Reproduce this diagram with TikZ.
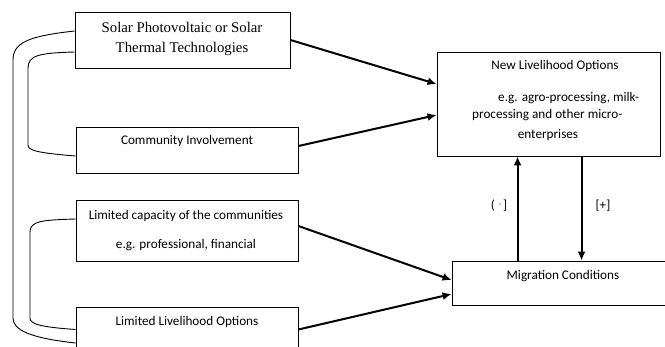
\documentclass[tikz,border=0pt]{standalone}
\usepackage{fontspec}
\setmainfont{Carlito}
\newfontfamily\tms{Liberation Serif}
\usetikzlibrary{arrows.meta,calc}
\begin{document}
\begin{tikzpicture}[x=1pt,y=-1pt,
  box/.style={draw, line width=0.9pt, inner sep=0pt, minimum width=#1},
  txt/.style={inner sep=0pt, font=\fontsize{13.2}{16}\selectfont},
  arr/.style={line width=2pt, -{Latex[length=9pt,width=8pt]}},
  link/.style={line width=0.9pt}]
\useasboundingbox (0,0) rectangle (665,346);
\clip (0,0) rectangle (665,346);
% boxes
\node[box=215pt, minimum height=56pt] (solar) at (182.5,40) {};
\node[box=222pt, minimum height=46pt] (comm) at (187,150) {};
\node[box=222pt, minimum height=61pt] (cap) at (187,230.5) {};
\node[box=222pt, minimum height=45pt] (lim) at (187,329.5) {};
\node[box=223pt, minimum height=104pt] (nlo) at (548.5,104) {};
\node[box=226pt, minimum height=44pt] (mig) at (565,283) {};
% texts
\node[txt, font=\tms\fontsize{14.8}{20}\selectfont, align=center] (t1) at (182,39) {Solar Photovoltaic or Solar\\Thermal Technologies};
\node[txt] (t2) at (187,141) {Community Involvement};
\node[txt] (t3) at (186,216) {Limited capacity of the communities};
\node[txt] (t4) at (186,245) {e.g. professional, financial};
\node[txt] (t5) at (187,322) {Limited Livelihood Options};
\node[txt] (t6) at (555,66) {New Livelihood Options};
\node[txt, anchor=west] (t7) at (498,98) {e.g. agro-processing, milk-};
\node[txt, anchor=west] (t8) at (472,115) {processing and other micro-};
\node[txt] (t9) at (548,135) {enterprises};
\node[txt] (t10) at (563,276) {Migration Conditions};
\node[txt] (l1) at (499,206) {(\hspace{4pt}\raisebox{3pt}{\scriptsize -}\hspace{2pt}]};
\node[txt] (l2) at (603,206) {[+]};
% arrows
\draw[arr] (solar.east) -- ([yshift=20pt]nlo.west);
\draw[arr] ([yshift=4pt]comm.east) -- ([yshift=-11pt]nlo.west);
\draw[arr] ([yshift=4.5pt]cap.east) -- ([yshift=3pt]mig.west);
\draw[arr] (lim.east) -- ([yshift=-11pt]mig.west);
\coordinate (upx) at ([xshift=81pt]nlo.south west);
\coordinate (dnx) at ([xshift=145pt]nlo.south west);
\draw[arr] (upx |- mig.north) -- (upx);
\draw[arr] (dnx) -- (dnx |- mig.north);
% left links
\draw[link] ([yshift=9pt]solar.west) .. controls (30,36) and (13,42) .. (13,60) -- (13,318) .. controls (13,330) and (30,338) .. ([yshift=-13.5pt]lim.west);
\draw[link] ([yshift=-12pt]solar.west) .. controls (40,53) and (28,55) .. (28,68) -- (28,145) .. controls (28,151) and (40,153) .. ([yshift=-6pt]comm.west);
\draw[link] ([yshift=11.5pt]cap.west) .. controls (42,220) and (30,221) .. (30,232) -- (30,318) .. controls (30,324) and (40,327) .. (lim.west);
\end{tikzpicture}
\end{document}
